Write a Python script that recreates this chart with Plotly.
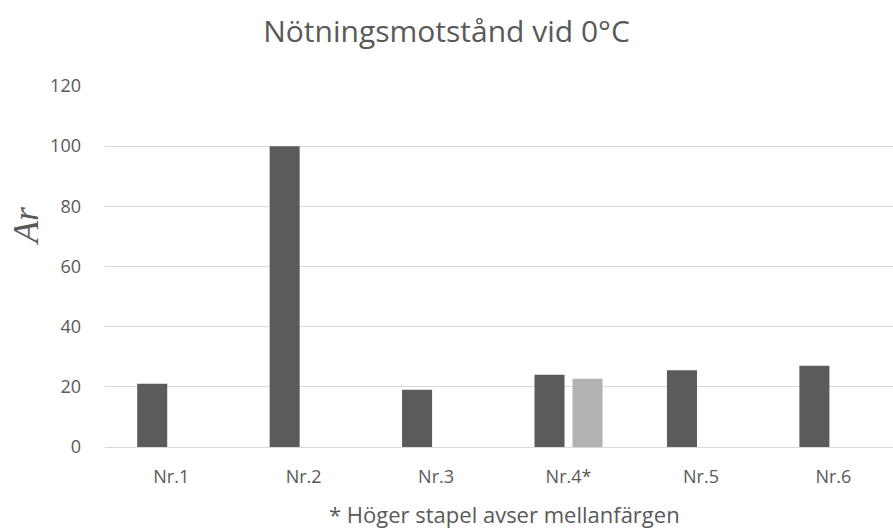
import plotly.graph_objects as go

# Abrasion resistance at 0 °C per sample
categories = ["Nr.1", "Nr.2", "Nr.3", "Nr.4*", "Nr.5", "Nr.6"]
main_values = [21, 100, 19, 24, 25.5, 27]
mid_colour_values = [None, None, None, 22.7, None, None]
y_ticks = [0, 20, 40, 60, 80, 100, 120]

text_colour = "#595959"
font_family = "Open Sans, Noto Sans, sans-serif"

fig = go.Figure()
fig.add_trace(go.Bar(x=categories, y=main_values, marker_color="#5b5b5b",
                     marker_line_width=0, showlegend=False))
fig.add_trace(go.Bar(x=categories, y=mid_colour_values, marker_color="#b2b2b2",
                     marker_line_width=0, showlegend=False))

fig.update_layout(
    width=893, height=530,
    margin=dict(l=105, r=0, t=86, b=83),
    paper_bgcolor="white", plot_bgcolor="white",
    barmode="group", bargap=0.426, bargroupgap=0.21,
    title=dict(text="Nötningsmotstånd vid 0°C", x=0.5, xanchor="center",
               y=0.94, yanchor="middle",
               font=dict(family=font_family, size=30, color=text_colour)),
    font=dict(family=font_family, color=text_colour),
)

fig.update_xaxes(
    type="category", range=[-0.5, 5.45],
    showgrid=False, showline=False, ticks="",
    ticklabelstandoff=17,
    tickfont=dict(size=18, color=text_colour),
)
fig.update_yaxes(
    range=[0, 120], tickvals=y_ticks,
    showgrid=True, gridcolor="#d9d9d9", gridwidth=1,
    zeroline=True, zerolinecolor="#d9d9d9", zerolinewidth=1,
    showline=False, ticks="", ticklabelstandoff=23,
    tickfont=dict(size=18, color=text_colour),
)

# Y-axis quantity symbol, set in a serif italic like a math variable
fig.add_annotation(
    text="<i>Ar</i>", textangle=-90,
    xref="paper", yref="paper", x=(26 - 105) / 788, y=(447 - 226) / 361,
    xanchor="center", yanchor="middle", showarrow=False,
    font=dict(family="Liberation Serif, DejaVu Serif, serif", size=36,
              color=text_colour),
)

fig.add_annotation(
    text="* Höger stapel avser mellanfärgen",
    xref="paper", yref="paper", x=(504 - 105) / 788, y=-0.1856,
    xanchor="center", yanchor="middle", showarrow=False,
    font=dict(family=font_family, size=22, color=text_colour),
)

fig.write_html("out.html")
